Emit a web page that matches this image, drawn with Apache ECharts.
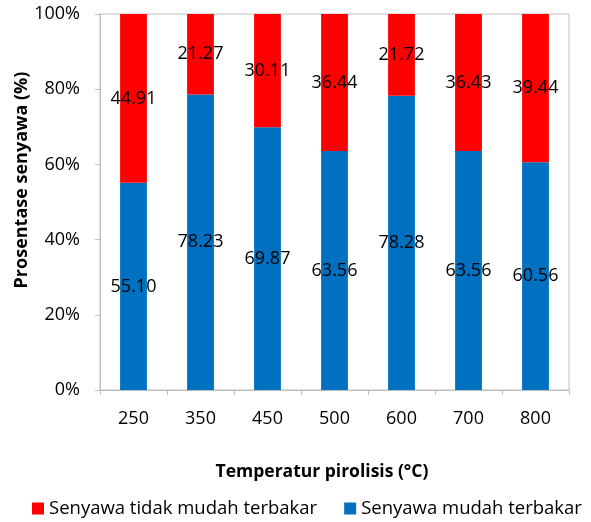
<!DOCTYPE html>
<html>
<head>
<meta charset="utf-8">
<script src="https://cdn.jsdelivr.net/npm/echarts@6/dist/echarts.min.js"></script>
<style>
  html, body { margin: 0; padding: 0; background: #ffffff; }
  #chart { width: 591px; height: 522px; }
</style>
</head>
<body>
<div id="chart"></div>
<script>
// Pyrolysis temperature categories (°C)
const categories = ['250', '350', '450', '500', '600', '700', '800'];
// Share of combustible compounds (%)
const mudahTerbakar = [55.10, 78.23, 69.87, 63.56, 78.28, 63.56, 60.56];
// Share of non-combustible compounds (%)
const tidakMudahTerbakar = [44.91, 21.27, 30.11, 36.44, 21.72, 36.43, 39.44];
// Value axis tick labels
const yTicks = ['0%', '20%', '40%', '60%', '80%', '100%'];

const FONT = '"Open Sans", "Liberation Sans", sans-serif';

// 100% stacking: each column is scaled to its own total
const totals = categories.map((_, i) => mudahTerbakar[i] + tidakMudahTerbakar[i]);
const pct = (arr) => arr.map((v, i) => ({ value: v / totals[i] * 100, raw: v }));

const labelCfg = {
  show: true,
  position: 'inside',
  color: '#000000',
  fontFamily: FONT,
  fontSize: 18,
  formatter: (p) => p.data.raw.toFixed(2)
};

const chart = echarts.init(document.getElementById('chart'), null, { renderer: 'canvas' });

chart.setOption({
  animation: false,
  backgroundColor: '#ffffff',
  textStyle: { fontFamily: FONT },
  grid: {
    left: 100, right: 22, top: 14, bottom: 132,
    show: true, borderColor: '#BFBFBF', borderWidth: 1,
    containLabel: false
  },
  legend: {
    bottom: -1,
    left: 27,
    itemWidth: 12,
    itemHeight: 12,
    itemGap: 27,
    icon: 'rect',
    textStyle: { fontFamily: FONT, fontSize: 18.5, color: '#000000' },
    data: ['Senyawa tidak mudah terbakar', 'Senyawa mudah terbakar']
  },
  xAxis: {
    type: 'category',
    data: categories,
    axisLine: { lineStyle: { color: '#BFBFBF', width: 1 } },
    axisTick: { show: true, length: 5, alignWithLabel: false, lineStyle: { color: '#BFBFBF' } },
    axisLabel: { color: '#000000', fontFamily: FONT, fontSize: 18, margin: 20 }
  },
  yAxis: {
    type: 'value',
    min: 0, max: 100, interval: 20,
    axisLine: { show: true, lineStyle: { color: '#BFBFBF', width: 1 } },
    axisTick: { show: true, length: 5, lineStyle: { color: '#BFBFBF' } },
    splitLine: { show: false },
    axisLabel: {
      color: '#000000', fontFamily: FONT, fontSize: 18, margin: 20,
      formatter: (v) => yTicks[Math.round(v / 20)]
    }
  },
  graphic: [
    {
      type: 'text',
      rotation: Math.PI / 2,
      x: 22, y: 180,
      style: {
        text: 'Prosentase senyawa (%)',
        fontFamily: FONT, fontSize: 18, fontWeight: 'bold', fill: '#000000',
        textAlign: 'center', textVerticalAlign: 'middle'
      }
    },
    {
      type: 'text',
      x: 322, y: 472,
      style: {
        text: 'Temperatur pirolisis (°C)',
        fontFamily: FONT, fontSize: 17.5, fontWeight: 'bold', fill: '#000000',
        textAlign: 'center', textVerticalAlign: 'middle'
      }
    }
  ],
  series: [
    {
      name: 'Senyawa mudah terbakar',
      type: 'bar',
      stack: 'total',
      barWidth: '40%',
      itemStyle: { color: '#0070C0' },
      label: labelCfg,
      data: pct(mudahTerbakar)
    },
    {
      name: 'Senyawa tidak mudah terbakar',
      type: 'bar',
      stack: 'total',
      barWidth: '40%',
      itemStyle: { color: '#FF0000' },
      label: labelCfg,
      data: pct(tidakMudahTerbakar)
    }
  ]
});
</script>
</body>
</html>
